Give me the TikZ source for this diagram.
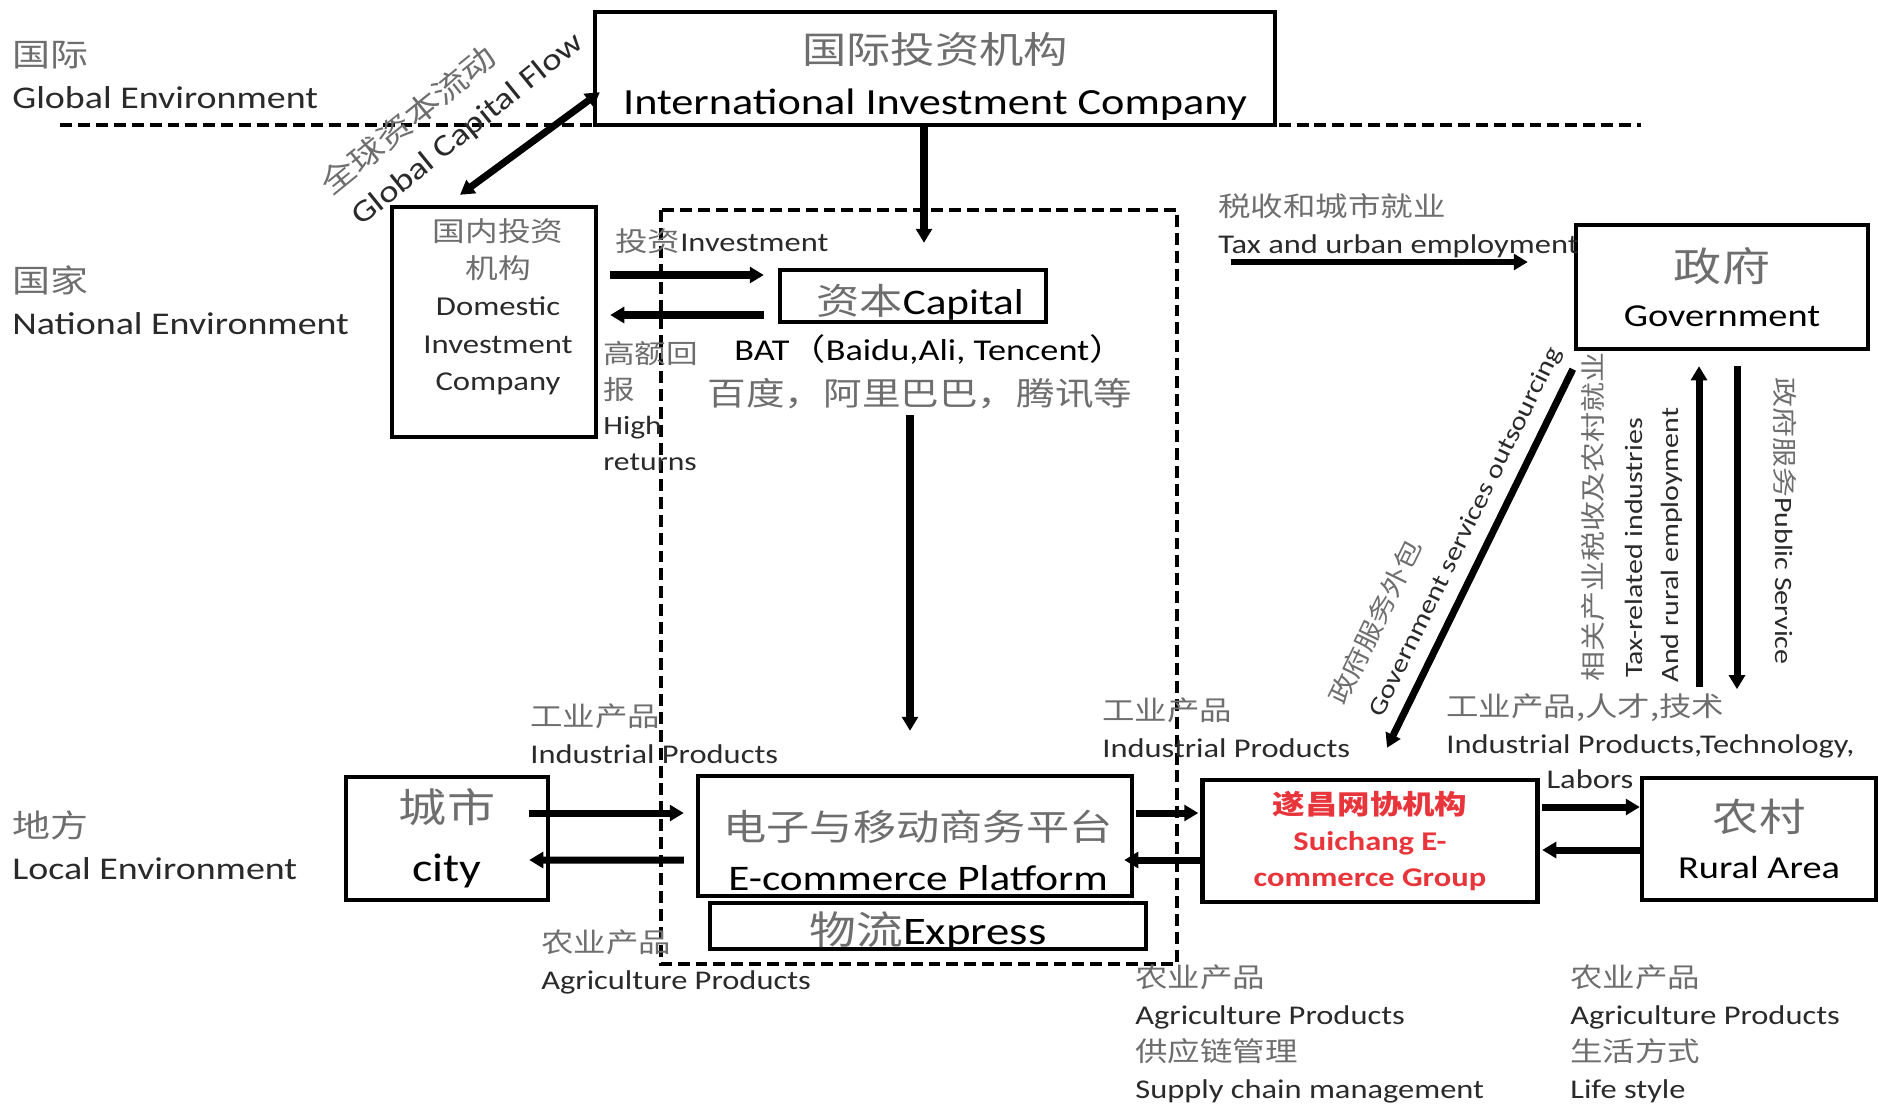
\documentclass[tikz,border=0pt]{standalone}
\usepackage{fontspec}
\setmainfont{Carlito}[FakeStretch=1.2]
\newfontfamily\cjk{Noto Sans CJK SC}[FakeStretch=1.2]
\usetikzlibrary{arrows.meta,calc}

\definecolor{zhgray}{HTML}{6E6E6E}
\definecolor{engray}{HTML}{2A2A2A}
\definecolor{scred}{HTML}{E8353B}
\newcommand{\zh}[1]{{\cjk\color{zhgray}#1}}

\tikzset{
    box/.style={draw, line width=2.5pt, inner sep=0pt, align=center},
    boxtext/.style={inner sep=0pt, align=center},
    flow/.style={line width=4pt, -{Triangle[length=8pt,width=9pt]}},
    twoflow/.style={flow, {Triangle[length=8pt,width=9pt]}-{Triangle[length=8pt,width=9pt]}},
    region/.style={line width=2.3pt, dash pattern=on 6.8pt off 3.4pt},
    lbl/.style={inner sep=0pt, align=left, text=engray, font=\fontsize{15.4}{21}\selectfont},
    sidelbl/.style={lbl, font=\fontsize{14.2}{18}\selectfont},
}

\begin{document}
\begin{tikzpicture}[x=0.02cm, y=-0.02cm]
    % Define pixel unit (coordinates are pixels of the page)
    \def\pxu{0.02cm}
    \useasboundingbox (0,0) rectangle (1879,1110);

    % Border between global and national level, and the platform region
    \draw[region] (60,125) -- (1641,125);
    \draw[region] (661,210) rectangle (1177,964);

    % Environment labels on the left
    \foreach \zhname/\enname/\ypos [count=\i] in {国际/Global Environment/75, 国家/National Environment/300, 地方/Local Environment/845} {
        \node[lbl, anchor=west, font=\fontsize{18}{24}\selectfont] (env\i) at (12,\ypos) {\zh{\zhname}\\\enname};
    }

    % Boxes (text placed a bit low, as in the source)
    \node[box, minimum width=680*\pxu, minimum height=113*\pxu] (intl) at (935,68.5) {};
    \node[boxtext, font=\fontsize{21}{29.5}\selectfont] (intltext) at ($(intl.center)+(0,8)$)
        {\zh{国际投资机构}\\International Investment Company};
    \node[box, minimum width=204*\pxu, minimum height=230*\pxu] (dom) at (494,322) {};
    \node[boxtext, anchor=north, text=engray, font=\fontsize{15.5}{21.3}\selectfont] (domtext) at ($(dom.north)+(4,13)$)
        {\zh{国内投资}\\\zh{机构}\\Domestic\\Investment\\Company};
    \node[box, minimum width=266*\pxu, minimum height=52*\pxu] (cap) at (913,296) {};
    \node[boxtext, font=\fontsize{20.5}{24}\selectfont] (captext) at ($(cap.center)+(7,6)$) {\zh{资本}Capital};
    \node[box, minimum width=202*\pxu, minimum height=123*\pxu, font=\fontsize{22.8}{33.6}\selectfont] (city) at (447,838.5)
        {\zh{城市}\\city};
    \node[box, minimum width=434*\pxu, minimum height=120*\pxu] (plat) at (915,836) {};
    \node[boxtext, font=\fontsize{20.5}{28.5}\selectfont] (plattext) at ($(plat.center)+(3,14)$)
        {\zh{电子与移动商务平台}\\E-commerce Platform};
    \node[box, minimum width=436*\pxu, minimum height=46*\pxu] (exp) at (928,926) {};
    \node[boxtext, font=\fontsize{22.2}{26}\selectfont] (exptext) at ($(exp.center)+(0,5)$) {\zh{物流}Express};
    \node[box, minimum width=335*\pxu, minimum height=122*\pxu, text=scred, font=\fontsize{15.4}{20.5}\selectfont\bfseries] (sc) at (1370,841)
        {{\cjk 遂昌网协机构}\\Suichang E-\\commerce Group};
    \node[box, minimum width=234*\pxu, minimum height=122*\pxu, font=\fontsize{18.2}{27}\selectfont] (rural) at (1759,839)
        {\zh{\fontsize{22}{27}\selectfont 农村}\\Rural Area};
    \node[box, minimum width=292*\pxu, minimum height=124*\pxu, font=\fontsize{18.2}{26}\selectfont] (gov) at (1722,287)
        {\zh{\fontsize{22.8}{26}\selectfont 政府}\\Government};

    % Capital flows
    \draw[twoflow] ($(dom.north)+(-34,-10)$) -- ($(intl.south west)+(7,-35)$);
    \draw[flow] ($(intl.south)+(-11,0)$) -- ($(cap.north)+(11,-25)$);
    \draw[flow] ($(dom.east)+(12,-47)$) -- ($(cap.west)+(-14,-21)$);
    \draw[flow] ($(cap.west)+(-14,19)$) -- ($(dom.east)+(12,-7)$);
    \draw[flow] ($(cap.south)+(-3,91)$) -- ($(plat.north)+(-5,-43)$);

    % Product flows
    \draw[flow] ($(city.east)+(-21,-25.5)$) -- ($(plat.west)+(-12,-23)$);
    \draw[flow] ($(plat.west)+(-12,24)$) -- ($(city.east)+(-21,21.5)$);
    \draw[flow] ($(plat.east)+(2,-23)$) -- ($(sc.west)+(-2,-28)$);
    \draw[flow] ($(sc.west)+(0,19)$) -- ($(plat.east)+(-10,24)$);
    \draw[flow] ($(sc.east)+(2.5,-34)$) -- ($(rural.west)+(0,-32)$);
    \draw[flow] ($(rural.west)+(2,11)$) -- ($(sc.east)+(2.5,9)$);

    % Government flows
    \draw[flow, line width=3.2pt] ($(gov.west)+(-343,-25)$) -- ($(gov.west)+(-46,-25)$);
    \draw[flow] ($(gov.south west)+(-1,18)$) -- ($(sc.north)+(17,-30)$);
    \draw[flow] ($(gov.south)+(-23,336)$) -- ($(gov.south)+(-23,15)$);
    \draw[flow] ($(gov.south)+(15,15)$) -- ($(gov.south)+(15,338)$);

    % Labels
    \node[lbl, rotate=39, font=\fontsize{17}{20}\selectfont] (gcfzh) at (408,120) {\zh{全球资本流动}};
    \node[lbl, rotate=39, font=\fontsize{17.5}{20}\selectfont] (gcfen) at (468,130) {Global Capital Flow};
    \node[lbl, anchor=west] (invlbl) at (615,241) {\zh{投资}Investment};
    \node[lbl, anchor=north west, font=\fontsize{15}{20.3}\selectfont] (retlbl) at (603,341) {\zh{高额回}\\\zh{报}\\High\\returns};
    \node[lbl, text=black, font=\fontsize{17.2}{20}\selectfont] (bat) at (930,349) {BAT{\cjk （}Baidu,Ali, Tencent{\cjk ）}};
    \node[lbl, font=\fontsize{18.3}{22}\selectfont] (baidu) at (920,394) {\zh{百度，阿里巴巴，腾讯等}};
    \node[lbl, anchor=west] (indl) at (530,733.5) {\zh{工业产品}\\Industrial Products};
    \node[lbl, anchor=west] (agrl) at (541,962) {\zh{农业产品}\\Agriculture Products};
    \node[lbl, anchor=west] (indm) at (1102,727.5) {\zh{工业产品}\\Industrial Products};
    \node[lbl, anchor=west] (indr) at (1446,726) {\zh{工业产品,人才,技术}\\Industrial Products,Technology,};
    \node[lbl] (labors) at (1590,779) {Labors};
    \node[lbl, anchor=west] (supply) at (1135,1034) {\zh{农业产品}\\Agriculture Products\\\zh{供应链管理}\\Supply chain management};
    \node[lbl, anchor=west] (life) at (1570,1034) {\zh{农业产品}\\Agriculture Products\\\zh{生活方式}\\Life style};
    \node[lbl, anchor=west] (taxlbl) at (1218,226) {\zh{税收和城市就业}\\Tax and urban employment};
    \node[sidelbl, rotate=64] (outzh) at (1375,622) {\zh{政府服务外包}};
    \node[sidelbl, rotate=64] (outen) at (1466,532) {Government services outsourcing};
    \node[sidelbl, rotate=90] (ruralzh) at (1593,517) {\zh{相关产业税收及农村就业}};
    \node[sidelbl, rotate=90] (ruralen) at (1634,548) {Tax-related industries};
    \node[sidelbl, rotate=90] (ruralen2) at (1672,545) {And rural employment};
    \node[sidelbl, rotate=-90] (pubsrv) at (1785,521) {\zh{政府服务}Public Service};
\end{tikzpicture}
\end{document}
